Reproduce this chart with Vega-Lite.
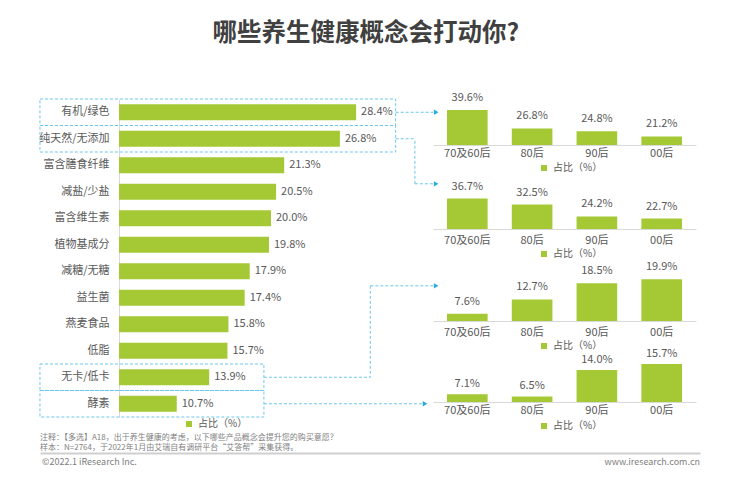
{
  "$schema": "https://vega.github.io/schema/vega-lite/v6.json",
  "background": "white",
  "padding": {"left": 38, "top": 20, "right": 5, "bottom": 5},
  "title": {"text": "哪些养生健康概念会打动你?", "fontSize": 24.5, "fontWeight": "bold", "color": "#404040", "anchor": "middle", "offset": 46, "dx": -43, "font": "Noto Sans CJK SC"},
  "config": {"font": "Noto Sans CJK SC", "view": {"stroke": null}, "legend": {"padding": 0}},
  "datasets": {
    "overall": [
      {"concept": "有机/绿色", "value": 28.4},
      {"concept": "纯天然/无添加", "value": 26.8},
      {"concept": "富含膳食纤维", "value": 21.3},
      {"concept": "减盐/少盐", "value": 20.5},
      {"concept": "富含维生素", "value": 20.0},
      {"concept": "植物基成分", "value": 19.8},
      {"concept": "减糖/无糖", "value": 17.9},
      {"concept": "益生菌", "value": 17.4},
      {"concept": "燕麦食品", "value": 15.8},
      {"concept": "低脂", "value": 15.7},
      {"concept": "无卡/低卡", "value": 13.9},
      {"concept": "酵素", "value": 10.7}
    ],
    "byAge": [
      {"concept": "有机/绿色", "group": "70及60后", "value": 39.6},
      {"concept": "有机/绿色", "group": "80后", "value": 26.8},
      {"concept": "有机/绿色", "group": "90后", "value": 24.8},
      {"concept": "有机/绿色", "group": "00后", "value": 21.2},
      {"concept": "纯天然/无添加", "group": "70及60后", "value": 36.7},
      {"concept": "纯天然/无添加", "group": "80后", "value": 32.5},
      {"concept": "纯天然/无添加", "group": "90后", "value": 24.2},
      {"concept": "纯天然/无添加", "group": "00后", "value": 22.7},
      {"concept": "无卡/低卡", "group": "70及60后", "value": 7.6},
      {"concept": "无卡/低卡", "group": "80后", "value": 12.7},
      {"concept": "无卡/低卡", "group": "90后", "value": 18.5},
      {"concept": "无卡/低卡", "group": "00后", "value": 19.9},
      {"concept": "酵素", "group": "70及60后", "value": 7.1},
      {"concept": "酵素", "group": "80后", "value": 6.5},
      {"concept": "酵素", "group": "90后", "value": 14.0},
      {"concept": "酵素", "group": "00后", "value": 15.7}
    ]
  },
  "resolve": {"scale": {"color": "independent"}, "legend": {"color": "independent"}},
  "spacing": 3,
  "vconcat": [
    {
      "bounds": "flush",
      "spacing": 10,
      "resolve": {"scale": {"color": "independent"}, "legend": {"color": "independent"}},
      "hconcat": [
        {
          "width": 304,
          "height": 318,
          "layer": [
            {
              "data": {"name": "overall"},
              "mark": {"type": "bar", "height": {"band": 0.6}},
              "encoding": {
                "y": {"field": "concept", "type": "nominal", "sort": null,
                  "scale": {"domain": ["有机/绿色", "纯天然/无添加", "富含膳食纤维", "减盐/少盐", "富含维生素", "植物基成分", "减糖/无糖", "益生菌", "燕麦食品", "低脂", "无卡/低卡", "酵素"], "paddingInner": 0, "paddingOuter": 0},
                  "axis": {"title": null, "ticks": false, "tickSize": 0, "labelPadding": 10, "labelFontSize": 11, "labelColor": "#595959", "domainColor": "#d9d9d9", "domainWidth": 1}},
                "x": {"field": "value", "type": "quantitative", "scale": {"domain": [5, 35], "zero": false, "nice": false}, "axis": null},
                "x2": {"datum": 5},
                "color": {"datum": "占比（%）", "scale": {"range": ["#A5C934"]},
                  "legend": {"title": null, "orient": "none", "legendX": 65, "legendY": 320, "direction": "horizontal", "symbolType": "square", "symbolSize": 36, "symbolStrokeWidth": 0, "labelFontSize": 10, "labelColor": "#595959"}}
              }
            },
            {
              "data": {"name": "overall"},
              "mark": {"type": "text", "align": "left", "baseline": "middle", "dx": 5, "fontSize": 11, "color": "#595959", "text": {"expr": "format(datum.value, '.1f') + '%'"}},
              "encoding": {
                "y": {"field": "concept", "type": "nominal", "sort": null},
                "x": {"field": "value", "type": "quantitative", "scale": {"domain": [5, 35], "zero": false, "nice": false}}
              }
            },
            {
              "data": {"name": "overall"},
              "transform": [{"filter": {"field": "concept", "oneOf": ["有机/绿色", "纯天然/无添加"]}}],
              "mark": {"type": "rect", "filled": false, "stroke": "#6cc7ec", "strokeWidth": 1, "strokeDash": [3, 2]},
              "encoding": {
                "y": {"field": "concept", "type": "nominal", "sort": null},
                "x": {"datum": -2.8, "scale": {"domain": [5, 35], "zero": false, "nice": false}},
                "x2": {"datum": 32.3}
              }
            },
            {
              "data": {"name": "overall"},
              "transform": [{"filter": {"field": "concept", "oneOf": ["无卡/低卡", "酵素"]}}],
              "mark": {"type": "rect", "filled": false, "stroke": "#6cc7ec", "strokeWidth": 1, "strokeDash": [3, 2]},
              "encoding": {
                "y": {"field": "concept", "type": "nominal", "sort": null},
                "x": {"datum": -2.8, "scale": {"domain": [5, 35], "zero": false, "nice": false}},
                "x2": {"datum": 19.3}
              }
            },
            {
              "data": {"values": [{}]},
              "mark": {"type": "rule", "stroke": "#6cc7ec", "strokeWidth": 1, "strokeDash": [3, 2]},
              "encoding": {"y": {"datum": "有机/绿色"}, "x": {"datum": 32.3, "scale": {"domain": [5, 35], "zero": false, "nice": false}}, "x2": {"datum": 36.0}}
            },
            {
              "data": {"values": [{}]},
              "mark": {"type": "rule", "stroke": "#6cc7ec", "strokeWidth": 1, "strokeDash": [3, 2]},
              "encoding": {"y": {"datum": "纯天然/无添加"}, "x": {"datum": 32.3, "scale": {"domain": [5, 35], "zero": false, "nice": false}}, "x2": {"datum": 34.2}}
            },
            {
              "data": {"values": [{}]},
              "mark": {"type": "rule", "stroke": "#6cc7ec", "strokeWidth": 1, "strokeDash": [3, 2]},
              "encoding": {"y": {"datum": "减盐/少盐", "bandPosition": 0.2}, "y2": {"datum": "纯天然/无添加"}, "x": {"datum": 34.2, "scale": {"domain": [5, 35], "zero": false, "nice": false}}}
            },
            {
              "data": {"values": [{}]},
              "mark": {"type": "rule", "stroke": "#6cc7ec", "strokeWidth": 1, "strokeDash": [3, 2]},
              "encoding": {"y": {"datum": "减盐/少盐", "bandPosition": 0.2}, "x": {"datum": 34.2, "scale": {"domain": [5, 35], "zero": false, "nice": false}}, "x2": {"datum": 36.0}}
            },
            {
              "data": {"values": [{}]},
              "mark": {"type": "rule", "stroke": "#6cc7ec", "strokeWidth": 1, "strokeDash": [3, 2]},
              "encoding": {"y": {"datum": "无卡/低卡"}, "x": {"datum": 19.3, "scale": {"domain": [5, 35], "zero": false, "nice": false}}, "x2": {"datum": 29.8}}
            },
            {
              "data": {"values": [{}]},
              "mark": {"type": "rule", "stroke": "#6cc7ec", "strokeWidth": 1, "strokeDash": [3, 2]},
              "encoding": {"y": {"datum": "益生菌", "bandPosition": 0.05}, "y2": {"datum": "无卡/低卡"}, "x": {"datum": 29.8, "scale": {"domain": [5, 35], "zero": false, "nice": false}}}
            },
            {
              "data": {"values": [{}]},
              "mark": {"type": "rule", "stroke": "#6cc7ec", "strokeWidth": 1, "strokeDash": [3, 2]},
              "encoding": {"y": {"datum": "益生菌", "bandPosition": 0.05}, "x": {"datum": 29.8, "scale": {"domain": [5, 35], "zero": false, "nice": false}}, "x2": {"datum": 36.0}}
            },
            {
              "data": {"values": [{}]},
              "mark": {"type": "rule", "stroke": "#6cc7ec", "strokeWidth": 1, "strokeDash": [3, 2]},
              "encoding": {"y": {"datum": "酵素"}, "x": {"datum": 19.3, "scale": {"domain": [5, 35], "zero": false, "nice": false}}, "x2": {"datum": 34.9}}
            },
            {
              "data": {"values": [{}]},
              "mark": {"type": "point", "shape": "triangle-right", "filled": true, "size": 28, "color": "#29a9e1", "opacity": 1},
              "encoding": {"y": {"datum": "有机/绿色"}, "x": {"datum": 36.3, "scale": {"domain": [5, 35], "zero": false, "nice": false}}}
            },
            {
              "data": {"values": [{}]},
              "mark": {"type": "point", "shape": "triangle-right", "filled": true, "size": 28, "color": "#29a9e1", "opacity": 1},
              "encoding": {"y": {"datum": "酵素"}, "x": {"datum": 35.2, "scale": {"domain": [5, 35], "zero": false, "nice": false}}}
            },
            {
              "data": {"values": [{}]},
              "mark": {"type": "point", "shape": "triangle-right", "filled": true, "size": 28, "color": "#29a9e1", "opacity": 1},
              "encoding": {"y": {"datum": "减盐/少盐", "bandPosition": 0.2}, "x": {"datum": 36.3, "scale": {"domain": [5, 35], "zero": false, "nice": false}}}
            },
            {
              "data": {"values": [{}]},
              "mark": {"type": "point", "shape": "triangle-right", "filled": true, "size": 28, "color": "#29a9e1", "opacity": 1},
              "encoding": {"y": {"datum": "益生菌", "bandPosition": 0.05}, "x": {"datum": 36.3, "scale": {"domain": [5, 35], "zero": false, "nice": false}}}
            }
          ]
        },
        {
          "bounds": "flush",
          "spacing": 36,
          "resolve": {"scale": {"color": "independent"}, "legend": {"color": "independent"}},
          "vconcat": [
            {
              "width": 263, "height": 46,
              "data": {"name": "byAge"},
              "transform": [{"filter": {"field": "concept", "equal": "有机/绿色"}}],
              "encoding": {
                "x": {"field": "group", "type": "nominal", "sort": null, "scale": {"domain": ["70及60后", "80后", "90后", "00后"], "paddingInner": 0.373, "paddingOuter": 0.216},
                  "axis": {"title": null, "ticks": false, "tickSize": 0, "labelPadding": 2, "labelFontSize": 11, "labelColor": "#595959", "domainColor": "#d9d9d9", "labelAngle": 0}},
                "y": {"field": "value", "type": "quantitative", "scale": {"domain": [15.2, 47.3], "zero": false, "nice": false, "clamp": true}, "axis": null}
              },
              "layer": [
                {"mark": {"type": "bar"}, "encoding": {"color": {"datum": "占比（%）", "scale": {"range": ["#A5C934"]}, "legend": {"title": null, "orient": "none", "legendX": 106, "legendY": 64, "symbolType": "square", "symbolSize": 36, "symbolStrokeWidth": 0, "labelFontSize": 10, "labelColor": "#595959"}}}},
                {"mark": {"type": "text", "baseline": "middle", "dy": -12, "fontSize": 11, "color": "#595959", "text": {"expr": "format(datum.value, '.1f') + '%'"}}}
              ]
            },
            {
              "width": 263, "height": 48,
              "data": {"name": "byAge"},
              "transform": [{"filter": {"field": "concept", "equal": "纯天然/无添加"}}],
              "encoding": {
                "x": {"field": "group", "type": "nominal", "sort": null, "scale": {"domain": ["70及60后", "80后", "90后", "00后"], "paddingInner": 0.373, "paddingOuter": 0.216},
                  "axis": {"title": null, "ticks": false, "tickSize": 0, "labelPadding": 5, "labelFontSize": 11, "labelColor": "#595959", "domainColor": "#d9d9d9", "labelAngle": 0}},
                "y": {"field": "value", "type": "quantitative", "scale": {"domain": [15.4, 49.0], "zero": false, "nice": false, "clamp": true}, "axis": null}
              },
              "layer": [
                {"mark": {"type": "bar"}, "encoding": {"color": {"datum": "占比（%）", "scale": {"range": ["#A5C934"]}, "legend": {"title": null, "orient": "none", "legendX": 106, "legendY": 68, "symbolType": "square", "symbolSize": 36, "symbolStrokeWidth": 0, "labelFontSize": 10, "labelColor": "#595959"}}}},
                {"mark": {"type": "text", "baseline": "middle", "dy": -12, "fontSize": 11, "color": "#595959", "text": {"expr": "format(datum.value, '.1f') + '%'"}}}
              ]
            },
            {
              "width": 263, "height": 56,
              "data": {"name": "byAge"},
              "transform": [{"filter": {"field": "concept", "equal": "无卡/低卡"}}],
              "encoding": {
                "x": {"field": "group", "type": "nominal", "sort": null, "scale": {"domain": ["70及60后", "80后", "90后", "00后"], "paddingInner": 0.373, "paddingOuter": 0.216},
                  "axis": {"title": null, "ticks": false, "tickSize": 0, "labelPadding": 5, "labelFontSize": 11, "labelColor": "#595959", "domainColor": "#d9d9d9", "labelAngle": 0}},
                "y": {"field": "value", "type": "quantitative", "scale": {"domain": [5.0, 25.0], "zero": false, "nice": false, "clamp": true}, "axis": null}
              },
              "layer": [
                {"mark": {"type": "bar"}, "encoding": {"color": {"datum": "占比（%）", "scale": {"range": ["#A5C934"]}, "legend": {"title": null, "orient": "none", "legendX": 106, "legendY": 76, "symbolType": "square", "symbolSize": 36, "symbolStrokeWidth": 0, "labelFontSize": 10, "labelColor": "#595959"}}}},
                {"mark": {"type": "text", "baseline": "middle", "dy": -12, "fontSize": 11, "color": "#595959", "text": {"expr": "format(datum.value, '.1f') + '%'"}}}
              ]
            },
            {
              "width": 263, "height": 45,
              "data": {"name": "byAge"},
              "transform": [{"filter": {"field": "concept", "equal": "酵素"}}],
              "encoding": {
                "x": {"field": "group", "type": "nominal", "sort": null, "scale": {"domain": ["70及60后", "80后", "90后", "00后"], "paddingInner": 0.373, "paddingOuter": 0.216},
                  "axis": {"title": null, "ticks": false, "tickSize": 0, "labelPadding": 2, "labelFontSize": 11, "labelColor": "#595959", "domainColor": "#d9d9d9", "labelAngle": 0}},
                "y": {"field": "value", "type": "quantitative", "scale": {"domain": [4.9, 17.7], "zero": false, "nice": false, "clamp": true}, "axis": null}
              },
              "layer": [
                {"mark": {"type": "bar"}, "encoding": {"color": {"datum": "占比（%）", "scale": {"range": ["#A5C934"]}, "legend": {"title": null, "orient": "none", "legendX": 106, "legendY": 64, "symbolType": "square", "symbolSize": 36, "symbolStrokeWidth": 0, "labelFontSize": 10, "labelColor": "#595959"}}}},
                {"mark": {"type": "text", "baseline": "middle", "dy": -10, "fontSize": 11, "color": "#595959", "text": {"expr": "format(datum.value, '.1f') + '%'"}}}
              ]
            }
          ]
        }
      ]
    },
    {
      "width": 581,
      "height": 18,
      "title": {"text": ["注释：【多选】A18，出于养生健康的考虑，以下哪些产品概念会提升您的购买意愿？", "样本：N=2764，于2022年1月由艾瑞自有调研平台“艾答帮”采集获得。"], "anchor": "start", "frame": "group", "dx": -79, "fontSize": 8, "fontWeight": "normal", "color": "#7f7f7f", "lineHeight": 10, "offset": 1},
      "data": {"values": [{"label": "©2022.1 iResearch Inc."}, {"label": "www.iresearch.com.cn"}]},
      "encoding": {
        "x": {"field": "label", "type": "nominal", "scale": {"type": "point", "padding": 0, "domain": ["©2022.1 iResearch Inc.", "www.iresearch.com.cn"], "range": [-79, 581]},
          "axis": {"orient": "top", "title": null, "labels": false, "ticks": false, "grid": false, "domainColor": "#cfcfcf", "domainWidth": 2}},
        "text": {"field": "label"}
      },
      "layer": [
        {"transform": [{"filter": "datum.label == '©2022.1 iResearch Inc.'"}], "mark": {"type": "text", "align": "left", "baseline": "middle", "dx": 2, "fontSize": 9, "color": "#808080"}},
        {"transform": [{"filter": "datum.label == 'www.iresearch.com.cn'"}], "mark": {"type": "text", "align": "right", "baseline": "middle", "fontSize": 9, "color": "#808080"}}
      ]
    }
  ]
}
